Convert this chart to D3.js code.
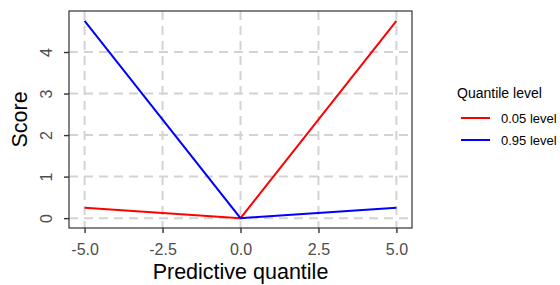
<!DOCTYPE html>
<html><head><meta charset="utf-8">
<script src="https://cdn.jsdelivr.net/npm/d3@7"></script>
<style>body{margin:0;background:#fff;}svg{display:block;font-family:"Liberation Sans",Arial,sans-serif;}</style>
</head><body>
<svg id="chart" width="560" height="285"></svg>
<script>
const quantiles = [-5, 0, 5];
const level005 = [0.25, 0, 4.75];
const level095 = [4.75, 0, 0.25];
const seriesNames = ["0.05 level", "0.95 level"];
const seriesColors = ["#ff0000", "#0000ff"];
const xTicks = [-5, -2.5, 0, 2.5, 5];
const xTickLabels = ["-5.0", "-2.5", "0.0", "2.5", "5.0"];
const yTicks = [0, 1, 2, 3, 4];

const svg = d3.select("#chart");
const L = 69, R = 412, T = 11, B = 228;
const x = d3.scaleLinear().domain([-5.5, 5.5]).range([L, R]);
const y = d3.scaleLinear().domain([-0.2375, 4.9875]).range([B, T]);

// grid
const g = svg.append("g");
g.selectAll(".gx").data(xTicks).join("line")
  .attr("x1", d => x(d)).attr("x2", d => x(d)).attr("y1", T).attr("y2", B)
  .attr("stroke", "#d3d3d3").attr("stroke-width", 2).attr("stroke-dasharray", "9,6");
g.selectAll(".gy").data(yTicks).join("line")
  .attr("y1", d => y(d)).attr("y2", d => y(d)).attr("x1", L).attr("x2", R)
  .attr("stroke", "#d3d3d3").attr("stroke-width", 2).attr("stroke-dasharray", "9,6");

// lines
const series = [level005, level095];
const line = d3.line().x(d => x(d[0])).y(d => y(d[1]));
series.forEach((vals, i) => {
  svg.append("path").datum(quantiles.map((q, j) => [q, vals[j]]))
    .attr("d", line).attr("fill", "none").attr("stroke", seriesColors[i]).attr("stroke-width", 2);
});

// border
svg.append("rect").attr("x", L).attr("y", T).attr("width", R - L).attr("height", B - T)
  .attr("fill", "none").attr("stroke", "#333").attr("stroke-width", 1.2);

// axes
const xAxis = svg.append("g").attr("transform", `translate(0,${B})`)
  .call(d3.axisBottom(x).tickValues(xTicks).tickFormat((d, i) => xTickLabels[i]).tickSize(5).tickPadding(4));
const yAxis = svg.append("g").attr("transform", `translate(${L},0)`)
  .call(d3.axisLeft(y).tickValues(yTicks).tickFormat(d3.format("d")).tickSize(5).tickPadding(4));
[xAxis, yAxis].forEach(a => {
  a.select(".domain").remove();
  a.selectAll(".tick line").attr("stroke", "#333").attr("stroke-width", 1.4);
  a.selectAll(".tick text").attr("fill", "#4d4d4d").attr("font-size", 16).style("font-size", "16px").style("font-family", "Liberation Sans, Arial, sans-serif");
});
xAxis.selectAll(".tick text").attr("y", 21.5).attr("dy", "0.35em");
yAxis.selectAll(".tick text")
  .attr("x", null).attr("dy", null).attr("text-anchor", "middle")
  .attr("transform", "translate(-17,0) rotate(-90)");

// titles
svg.append("text").attr("x", (L + R) / 2).attr("y", 279).attr("text-anchor", "middle")
  .style("font-size", "21.5px").attr("fill", "#000").text("Predictive quantile");
svg.append("text").attr("transform", `translate(27,${(T + B) / 2}) rotate(-90)`).attr("text-anchor", "middle")
  .style("font-size", "21.5px").attr("fill", "#000").text("Score");

// legend
svg.append("text").attr("x", 457).attr("y", 98).style("font-size", "14px").attr("fill", "#000").text("Quantile level");
seriesNames.forEach((n, i) => {
  const yy = 118 + i * 22;
  svg.append("line").attr("x1", 461).attr("x2", 490).attr("y1", yy).attr("y2", yy)
    .attr("stroke", seriesColors[i]).attr("stroke-width", 2);
  svg.append("text").attr("x", 501).attr("y", yy).attr("dy", "0.35em").style("font-size", "13px")
    .attr("fill", "#000").text(n);
});
</script>
</body></html>
